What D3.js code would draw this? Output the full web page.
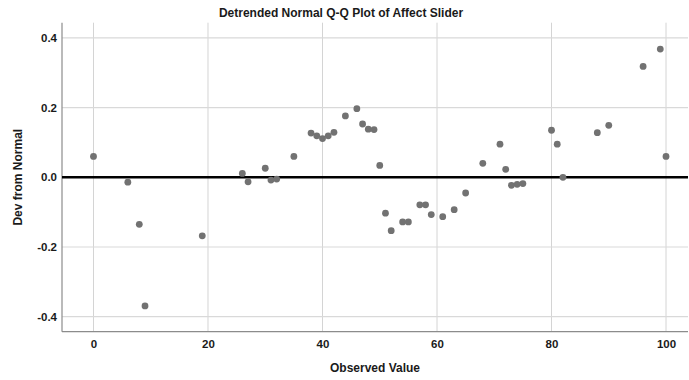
<!DOCTYPE html>
<html><head><meta charset="utf-8">
<script src="https://cdn.jsdelivr.net/npm/d3@7"></script>
<style>body{margin:0;background:#fff}svg{display:block}text{font-family:"Liberation Sans",Arial,sans-serif}</style>
</head><body>
<script>
const observed = [0,6,8,9,19,26,27,30,31,32,35,38,39,40,41,42,44,46,47,48,49,50,51,52,54,55,57,58,59,61,63,65,68,71,72,73,74,75,80,81,82,88,90,96,99,100];
const devFromNormal = [0.060,-0.014,-0.135,-0.369,-0.168,0.011,-0.013,0.026,-0.008,-0.005,0.060,0.127,0.119,0.111,0.119,0.129,0.176,0.197,0.153,0.138,0.137,0.034,-0.103,-0.153,-0.128,-0.128,-0.079,-0.079,-0.107,-0.113,-0.093,-0.045,0.040,0.095,0.023,-0.023,-0.020,-0.018,0.135,0.095,0.000,0.128,0.149,0.318,0.368,0.060];
const xTicks = [0,20,40,60,80,100];
const yTicks = [-0.4,-0.2,0.0,0.2,0.4];
const title = "Detrended Normal Q-Q Plot of Affect Slider";
const xLabel = "Observed Value";
const yLabel = "Dev from Normal";

const W = 689, H = 380;
const m = {left:62, right:1, top:22.7, bottom:48.3};
const svg = d3.select("body").append("svg").attr("width",W).attr("height",H);
const x = d3.scaleLinear().domain([-5.5,103.84]).range([m.left, W-m.right]);
const y = d3.scaleLinear().domain([-0.443,0.4436]).range([H-m.bottom, m.top]);

// gridlines
svg.append("g").selectAll("line").data(xTicks).join("line")
  .attr("x1",d=>x(d)).attr("x2",d=>x(d)).attr("y1",m.top).attr("y2",H-m.bottom)
  .attr("stroke","#d4d4d4").attr("stroke-width",1);
svg.append("g").selectAll("line").data(yTicks.filter(d=>d!==0)).join("line")
  .attr("x1",m.left).attr("x2",W-m.right).attr("y1",d=>y(d)).attr("y2",d=>y(d))
  .attr("stroke","#d9d9d9").attr("stroke-width",1.2);

// axes
const xAxis = svg.append("g").attr("transform",`translate(0,${H-m.bottom})`)
  .call(d3.axisBottom(x).tickValues(xTicks).tickFormat(d3.format("d")).tickSize(0).tickPadding(8));
const yAxis = svg.append("g").attr("transform",`translate(${m.left},0)`)
  .call(d3.axisLeft(y).tickValues(yTicks).tickFormat(d=>d3.format(".1f")(d).replace("\u2212","-")).tickSize(0).tickPadding(5));
[xAxis,yAxis].forEach(a=>{
  a.select(".domain").attr("stroke","#8c8c8c").attr("stroke-width",1.2);
  a.selectAll("text").attr("font-size",11.5).attr("font-weight","bold").attr("fill","#1a1a1a")
   .attr("font-family","'Liberation Sans',Arial,sans-serif");
});
xAxis.select(".domain").attr("d",`M${m.left},0H${W-m.right}`);
yAxis.select(".domain").attr("d",`M0,${m.top}V${H-m.bottom}`);

// zero line
svg.append("line").attr("x1",m.left).attr("x2",W-m.right).attr("y1",y(0)).attr("y2",y(0))
  .attr("stroke","#000").attr("stroke-width",2.5);

// points
svg.append("g").selectAll("circle").data(observed.map((v,i)=>[v,devFromNormal[i]])).join("circle")
  .attr("cx",d=>x(d[0])).attr("cy",d=>y(d[1])).attr("r",3.4).attr("fill","#727272");

// titles
svg.append("text").attr("x",341).attr("y",17).attr("text-anchor","middle")
  .attr("font-size",12).attr("font-weight","bold").attr("fill","#1a1a1a").text(title);
svg.append("text").attr("x",(m.left+W-m.right)/2).attr("y",372).attr("text-anchor","middle")
  .attr("font-size",12).attr("font-weight","bold").attr("fill","#1a1a1a").text(xLabel);
svg.append("text").attr("transform",`translate(22,${(m.top+H-m.bottom)/2}) rotate(-90)`).attr("text-anchor","middle")
  .attr("font-size",12).attr("font-weight","bold").attr("fill","#1a1a1a").text(yLabel);
</script>
</body></html>
